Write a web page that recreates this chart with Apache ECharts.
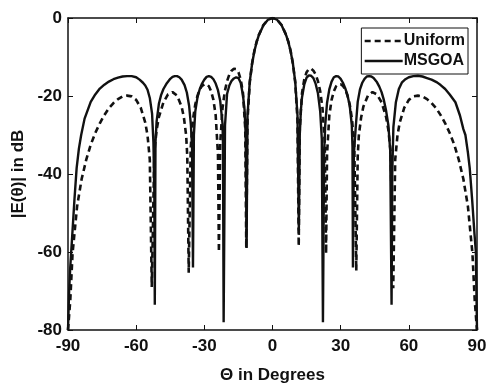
<!DOCTYPE html>
<html>
<head>
<meta charset="utf-8">
<script src="https://cdn.jsdelivr.net/npm/echarts@6/dist/echarts.min.js"></script>
<style>
  html, body { margin: 0; padding: 0; background: #fff; }
  #chart { width: 490px; height: 389px; }
</style>
</head>
<body>
<div id="chart"></div>
<script>
// Uniform array pattern (dashed), angle in degrees / level in dB
const uniformAngles = [
  -90, -89, -88, -86, -84, -82, -80, -78, -76, -74, -72, -70, -68, -66, -64, -62, -60, -58, -56, -55, -54,
  -53.13, -52, -51, -50, -48, -46, -44, -42, -40, -39, -38, -37.5,
  -36.87, -36, -35, -34, -33, -32, -31, -30, -29, -28, -27, -26, -25, -24,
  -23.58, -23, -22, -21, -20, -19, -18, -17, -16, -15, -14, -13, -12,
  -11.54, -11, -10, -9, -8, -7, -6, -4, -2, 0, 2, 4, 6, 7, 8, 9, 10, 11,
  11.54, 12, 13, 14, 15, 16, 17, 18, 19, 20, 21, 22, 23,
  23.58, 24, 25, 26, 27, 28, 29, 30, 31, 32, 33, 34, 35, 36,
  36.87, 37.5, 38, 39, 40, 42, 44, 46, 48, 50, 51, 52,
  53.13, 54, 55, 56, 58, 60, 62, 64, 66, 68, 70, 72, 74, 76, 78, 80, 82, 84, 86, 88, 89, 90
];
const uniformDb = [
  -80, -72.4, -60.4, -48.3, -41.3, -36.4, -32.5, -29.5, -27.0, -24.9, -23.1, -21.8, -20.8, -20.1, -19.9, -20.1, -21.0, -23.0, -26.8, -30.1, -36.3,
  -69, -34.4, -28.7, -25.4, -21.6, -19.6, -19.0, -19.9, -22.7, -25.5, -30.1, -35.5,
  -65.3, -33.2, -26.0, -22.2, -19.9, -18.3, -17.4, -17.0, -17.0, -17.5, -18.8, -21.0, -25.0, -35.0,
  -60, -32.0, -23.1, -18.8, -16.2, -14.5, -13.5, -13.0, -13.1, -13.9, -15.7, -19.2, -28.3,
  -59, -26.2, -16.5, -11.7, -8.5, -6.1, -4.3, -1.8, -0.4, 0, -0.4, -1.8, -4.3, -6.1, -8.5, -11.7, -16.5, -26.2,
  -58.5, -28.3, -19.2, -15.7, -13.9, -13.1, -13.0, -13.5, -14.5, -16.2, -18.8, -23.1, -32.0,
  -60.4, -35.0, -25.0, -21.0, -18.8, -17.5, -17.0, -17.0, -17.4, -18.3, -19.9, -22.2, -26.0, -33.2,
  -64.8, -35.5, -30.1, -25.5, -22.7, -19.9, -19.0, -19.6, -21.6, -25.4, -28.7, -34.4,
  -69.3, -36.3, -30.1, -26.8, -23.0, -21.0, -20.1, -19.9, -20.1, -20.8, -21.8, -23.1, -24.9, -27.0, -29.5, -32.5, -36.4, -41.3, -48.3, -60.4, -72.4, -80
];

// MSGOA optimised pattern (solid)
const msgoaAngles = [
  -90, -89.5, -89, -88.1, -87.2, -86.2, -85.2, -84.2, -82.7, -80, -78, -76, -74, -72, -70, -68, -66, -64, -62, -60, -58.5, -57, -56, -55, -54, -53, -52.4, -52,
  -51.8, -51.5, -51, -50, -49, -48, -46.5, -45, -44, -43, -42, -41, -40, -38.7, -37.7, -36.7, -35.9, -35.4,
  -35, -34.6, -34, -33, -32, -31, -30, -29, -28, -27, -26, -25, -24, -23, -22, -21.8,
  -21.5, -20.9, -20, -19, -18, -17, -16, -15, -14, -13, -12.3, -11.8,
  -11.4, -11, -10, -9, -8, -7, -6, -4, -2, 0, 2, 4, 6, 7, 8, 9, 10, 11,
  11.6, 12, 12.5, 13, 14, 15, 16, 17, 18, 19, 20, 21, 21.7,
  22.2, 22.7, 23.2, 24, 25, 26, 27, 28, 29, 30, 31, 32, 33, 34, 34.9, 35.2,
  35.4, 35.8, 36.7, 37.5, 38.5, 39.5, 40.5, 41.5, 42.5, 43.5, 44.5, 46, 47, 48, 49, 50, 51, 51.8,
  52.4, 52.7, 53.2, 54.3, 55.6, 57, 58.5, 60, 62, 64, 66, 68, 70, 72.4, 74, 76, 78, 80.5, 82.5, 84, 84.9, 86, 86.8, 87.9, 88.9, 89.5, 90
];
const msgoaDb = [
  -80, -70, -63.8, -55.4, -46.9, -38.5, -33.5, -30, -25.8, -21.5, -19.6, -18.1, -17.1, -16.3, -15.7, -15.3, -15.0, -14.9, -14.9, -15.2, -15.8, -16.6, -17.3, -18.4, -20.5, -24.5, -32, -45,
  -73.5, -32, -26.5, -22, -19.7, -18.2, -16.7, -15.6, -15.1, -14.9, -14.9, -15.2, -15.8, -17.2, -19.1, -22.5, -27.5, -33,
  -64, -30, -24, -20.3, -18.2, -16.8, -15.8, -15.1, -14.9, -15.1, -15.7, -16.8, -18.5, -21.3, -27, -32,
  -78, -27.5, -19.5, -17.3, -16.1, -15.5, -15.2, -15.4, -16.6, -19.8, -23.5, -30,
  -59, -25, -16.3, -11.8, -8.6, -6.2, -4.4, -1.85, -0.45, 0, -0.45, -1.85, -4.4, -6.2, -8.6, -11.8, -16.3, -25,
  -54.5, -30, -23.5, -20.3, -17, -15.3, -14.7, -14.8, -15.4, -16.9, -19.3, -24, -31,
  -78, -35, -27.5, -21.8, -18.3, -16.3, -15.2, -14.9, -15.0, -15.6, -16.6, -18.0, -19.8, -22.5, -27.5, -33,
  -64, -35, -27.5, -21.5, -18.3, -16.6, -15.6, -15.0, -14.9, -15.0, -15.4, -16.5, -17.6, -19.0, -21, -23.8, -27.5, -34,
  -73.5, -40, -28, -21.6, -18.2, -16.5, -15.7, -15.2, -14.9, -14.8, -15.0, -15.4, -15.8, -16.5, -17.2, -18.2, -19.6, -21.6, -25, -28.5, -30, -34.5, -38.5, -46.9, -55.4, -60, -80
];

const seriesNames = ['Uniform', 'MSGOA'];
const xTicks = [-90, 90, 30];
const yTicks = [-80, 0, 20];

const INK = '#111';
const FONT = 'Liberation Sans, Arial, sans-serif';

function toPairs(xs, ys) {
  return xs.map((x, i) => [x, ys[i]]);
}

function boxAxis(kind, position, showLabels, range) {
  return {
    type: 'value',
    position: position,
    min: range[0],
    max: range[1],
    interval: range[2],
    axisLine: { show: true, onZero: false, lineStyle: { color: INK, width: 1.5 } },
    axisTick: { show: true, inside: true, length: 5, lineStyle: { color: INK, width: 1 } },
    axisLabel: {
      show: showLabels,
      color: INK,
      fontFamily: FONT,
      fontWeight: 'bold',
      fontSize: 17,
      margin: kind === 'x' ? 8 : 6,
    },
    splitLine: { show: false },
  };
}

const chart = echarts.init(document.getElementById('chart'), null, { renderer: 'canvas' });

const xBottom = boxAxis('x', 'bottom', true, xTicks);
xBottom.name = 'Θ in Degrees';
xBottom.nameLocation = 'middle';
xBottom.nameGap = 37;
xBottom.nameTextStyle = { color: INK, fontFamily: FONT, fontWeight: 'bold', fontSize: 17 };

const yLeft = boxAxis('y', 'left', true, yTicks);
yLeft.name = '|E(θ)| in dB';
yLeft.nameLocation = 'middle';
yLeft.nameGap = 40;
yLeft.nameTextStyle = { color: INK, fontFamily: FONT, fontWeight: 'bold', fontSize: 17 };

chart.setOption({
  animation: false,
  backgroundColor: '#fff',
  grid: { left: 68, right: 13, top: 18, bottom: 55 },
  legend: {
    data: seriesNames,
    orient: 'vertical',
    right: 22,
    top: 28,
    itemWidth: 38,
    itemHeight: 14,
    itemGap: 4,
    padding: [5, 3, 5, 2],
    borderColor: INK,
    borderWidth: 1,
    borderRadius: 0,
    backgroundColor: '#fff',
    // hide the marker the line legend icon adds
    itemStyle: { color: 'rgba(0,0,0,0)', borderWidth: 0, opacity: 0 },
    lineStyle: { width: 2.6 },
    textStyle: { color: INK, fontFamily: FONT, fontWeight: 'bold', fontSize: 16, padding: [0, 0, 0, -4] },
  },
  xAxis: [xBottom, boxAxis('x', 'top', false, xTicks)],
  yAxis: [yLeft, boxAxis('y', 'right', false, yTicks)],
  series: [
    {
      name: seriesNames[0],
      type: 'line',
      data: toPairs(uniformAngles, uniformDb),
      symbol: 'none',
      lineStyle: { color: INK, width: 2.6, type: [6, 4] },
      itemStyle: { color: INK },
      z: 3,
    },
    {
      name: seriesNames[1],
      type: 'line',
      data: toPairs(msgoaAngles, msgoaDb),
      symbol: 'none',
      lineStyle: { color: INK, width: 2.4 },
      itemStyle: { color: INK },
      z: 2,
    },
  ],
});
</script>
</body>
</html>
